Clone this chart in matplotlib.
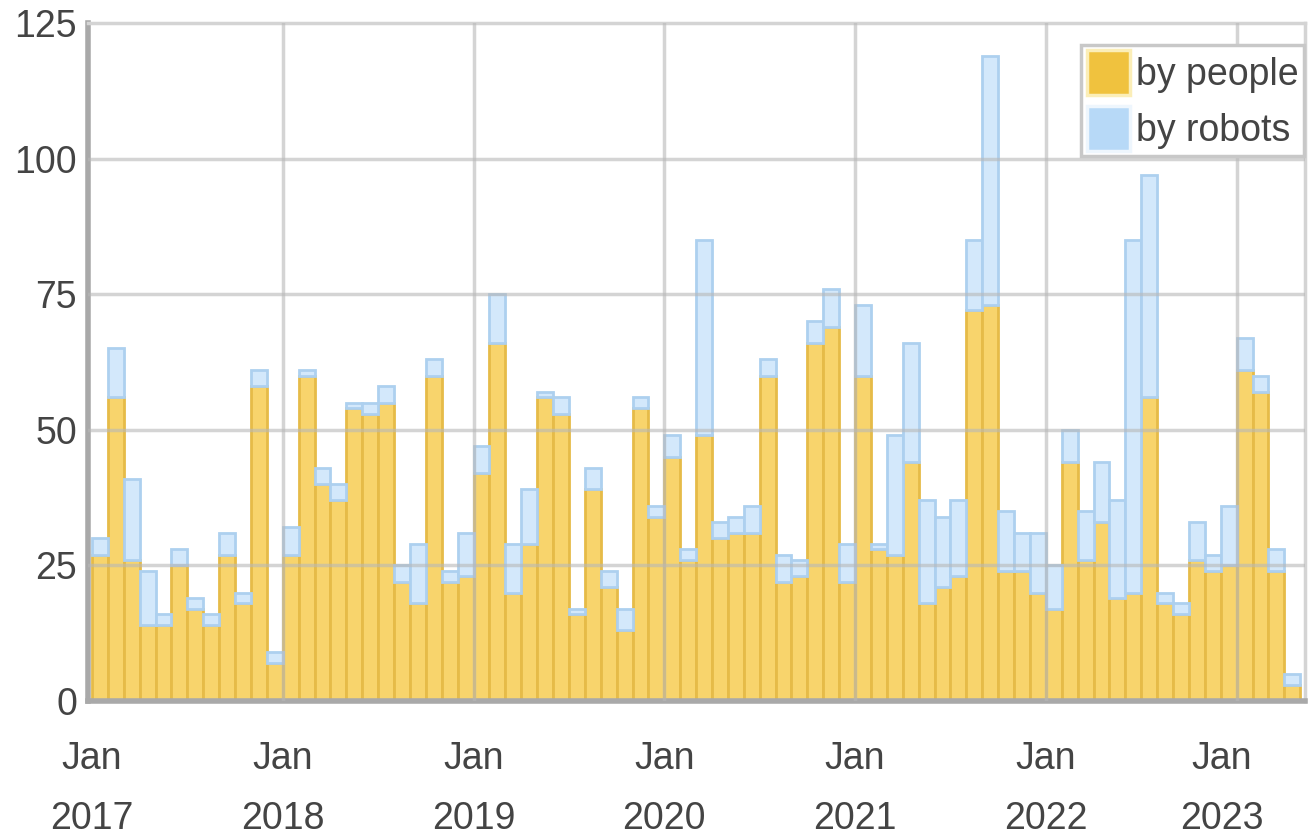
import numpy as np
import matplotlib
matplotlib.use('Agg')
import matplotlib.pyplot as plt
import matplotlib.transforms as mtrans
from matplotlib.patches import Patch

plt.rcParams['font.family'] = ['Liberation Sans', 'DejaVu Sans']

# monthly counts, Jan 2017 .. Apr 2023
people = [27, 56, 26, 14, 14, 25, 17, 14, 27, 18, 58, 7,
          27, 60, 40, 37, 54, 53, 55, 22, 18, 60, 22, 23,
          42, 66, 20, 29, 56, 53, 16, 39, 21, 13, 54, 34,
          45, 26, 49, 30, 31, 31, 60, 22, 23, 66, 69, 22,
          60, 28, 27, 44, 18, 21, 23, 72, 73, 24, 24, 20,
          17, 44, 26, 33, 19, 20, 56, 18, 16, 26, 24, 25,
          61, 57, 24, 3]
robots = [3, 9, 15, 10, 2, 3, 2, 2, 4, 2, 3, 2,
          5, 1, 3, 3, 1, 2, 3, 3, 11, 3, 2, 8,
          5, 9, 9, 10, 1, 3, 1, 4, 3, 4, 2, 2,
          4, 2, 36, 3, 3, 5, 3, 5, 3, 4, 7, 7,
          13, 1, 22, 22, 19, 13, 14, 13, 46, 11, 7, 11,
          8, 6, 9, 11, 18, 65, 41, 2, 2, 7, 3, 11,
          6, 3, 4, 2]
years = ['2017', '2018', '2019', '2020', '2021', '2022', '2023']
y_ticks = [0, 25, 50, 75, 100, 125]

txt = '#444444'
fs = 27
x = np.arange(len(people))

fig = plt.figure(figsize=(13.09, 8.39), dpi=100)
ax = fig.add_axes([88 / 1309, 1 - 701 / 839, 1217 / 1309, 678 / 839])

ax.bar(x, people, width=1, align='edge', color='#f8d46c',
       edgecolor='#e6bb48', linewidth=2, zorder=2)
ax.bar(x, robots, width=1, align='edge', bottom=people, color='#d3e8fb',
       edgecolor='#add0ef', linewidth=2, zorder=2)

ax.set_xlim(-0.25, 76.3)
ax.set_ylim(0, 125)
ax.set_yticks(y_ticks)
ax.set_yticklabels([str(v) for v in y_ticks], fontsize=fs, color=txt)
jan = np.arange(0, 73, 12)
ax.set_xticks(jan)
ax.set_xticklabels(['Jan\n' + y for y in years], fontsize=fs, color=txt,
                   linespacing=1.85)
ax.tick_params(axis='both', length=0)
ax.tick_params(axis='x', pad=29)
ax.tick_params(axis='y', pad=8)
# last label sits a bit left of its gridline
last = ax.get_xticklabels()[-1]
last.set_transform(last.get_transform() +
                   mtrans.ScaledTranslation(-0.15, 0, fig.dpi_scale_trans))

# grid drawn over the bars, faint
for v in y_ticks[1:-1]:
    ax.axhline(v, color='#b8b8b8', lw=2.5, alpha=0.6, zorder=3)
for j in jan[1:]:
    ax.axvline(j, color='#b8b8b8', lw=2.5, alpha=0.6, zorder=3)

for s in ['left', 'bottom']:
    ax.spines[s].set_color('#a9a9a9')
    ax.spines[s].set_linewidth(4)
for s in ['top', 'right']:
    ax.spines[s].set_color('#d4d4d4')
    ax.spines[s].set_linewidth(2.5)

handles = [Patch(facecolor='#f0c23e', edgecolor='#fbeeb8', lw=2.5),
           Patch(facecolor='#b7d9f7', edgecolor='#eef6fd', lw=2.5)]
leg = ax.legend(handles, ['by people', 'by robots'], loc='upper right',
                bbox_to_anchor=(0.999, 0.968), borderaxespad=0,
                fontsize=fs, handlelength=1.15, handleheight=1.45,
                handletextpad=0.15, labelspacing=0.3, borderpad=0.15,
                fancybox=False, edgecolor='#c8c8c8', framealpha=1)
leg.get_frame().set_linewidth(2.5)
for t in leg.get_texts():
    t.set_color(txt)

fig.savefig('out.png', dpi=100)
